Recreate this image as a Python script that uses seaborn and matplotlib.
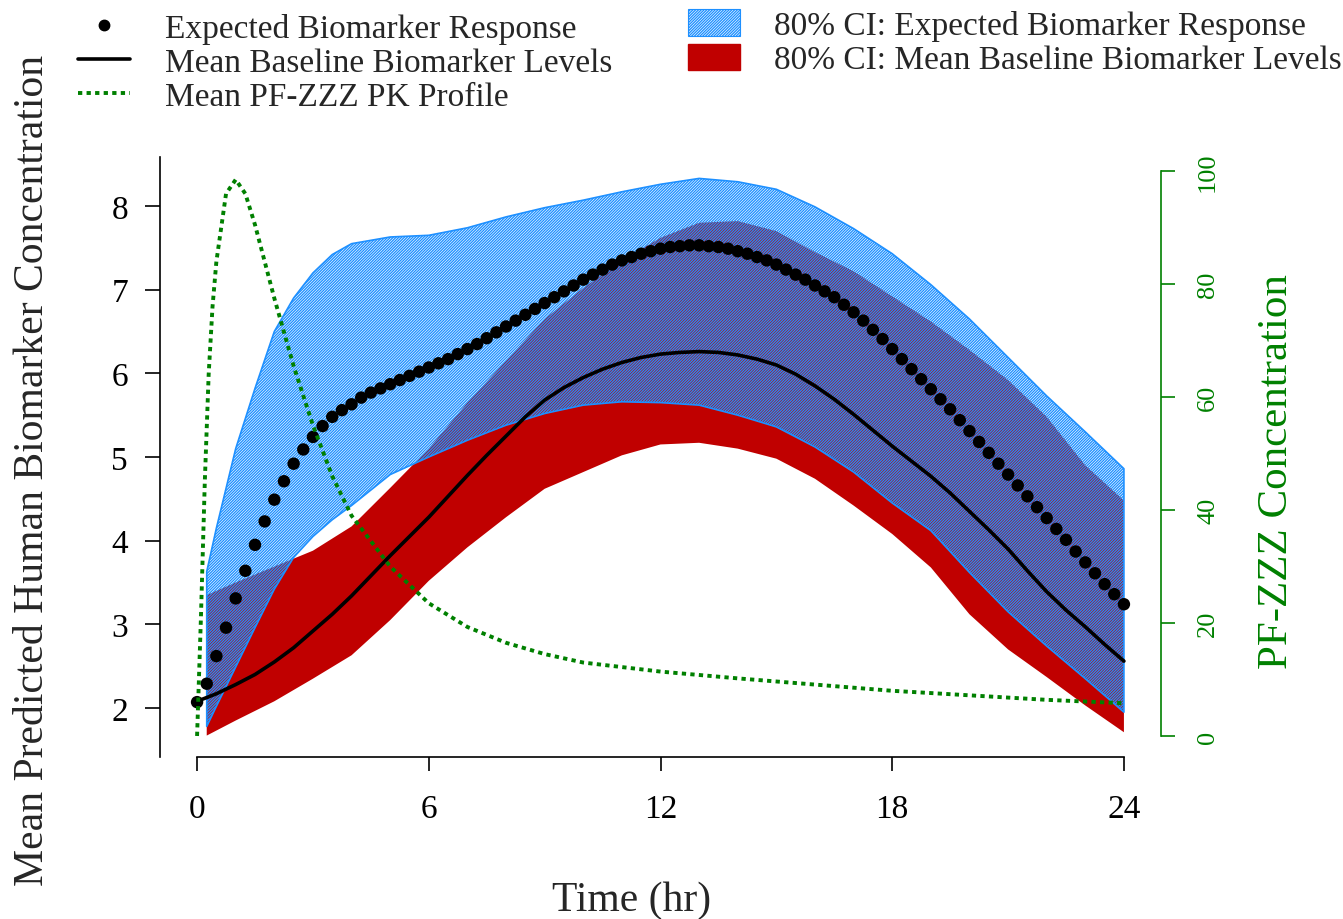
import numpy as np
import matplotlib
matplotlib.use("Agg")
import matplotlib.pyplot as plt
import seaborn as sns
from matplotlib.lines import Line2D
from matplotlib.patches import Patch

# ---------------- data ----------------
time_dots = np.arange(97) * 0.25
expected_response = [
    2.07, 2.29, 2.62, 2.96, 3.31, 3.64, 3.95, 4.23, 4.49, 4.71, 4.92, 5.09, 5.24,
    5.37, 5.48, 5.56, 5.63, 5.71, 5.77, 5.82, 5.87, 5.92, 5.97, 6.02, 6.07, 6.12,
    6.17, 6.23, 6.29, 6.35, 6.42, 6.49, 6.56, 6.63, 6.70, 6.77, 6.84, 6.91, 6.98,
    7.05, 7.12, 7.18, 7.24, 7.30, 7.35, 7.39, 7.43, 7.46, 7.49, 7.51, 7.52, 7.53,
    7.53, 7.52, 7.51, 7.49, 7.46, 7.43, 7.39, 7.35, 7.30, 7.24, 7.18, 7.12, 7.05,
    6.98, 6.91, 6.82, 6.73, 6.63, 6.52, 6.41, 6.29, 6.17, 6.05, 5.93, 5.81, 5.69,
    5.57, 5.44, 5.31, 5.18, 5.05, 4.92, 4.79, 4.66, 4.53, 4.40, 4.27, 4.14, 4.01,
    3.87, 3.74, 3.61, 3.48, 3.36, 3.24,
]

time_mean = [0, 0.5, 1, 1.5, 2, 2.5, 3, 3.5, 4, 4.5, 5, 5.5, 6, 6.5, 7, 7.5, 8,
             8.5, 9, 9.5, 10, 10.5, 11, 11.5, 12, 12.5, 13, 13.5, 14, 14.5, 15,
             15.5, 16, 16.5, 17, 17.5, 18, 18.5, 19, 19.5, 20, 20.5, 21, 21.5, 22,
             22.5, 23, 23.5, 24]
baseline_mean = [2.08, 2.17, 2.28, 2.40, 2.55, 2.72, 2.92, 3.12, 3.34, 3.58, 3.82,
                 4.05, 4.28, 4.53, 4.78, 5.02, 5.25, 5.48, 5.68, 5.83, 5.95, 6.05,
                 6.13, 6.19, 6.23, 6.25, 6.26, 6.25, 6.22, 6.17, 6.10, 5.99, 5.85,
                 5.69, 5.51, 5.32, 5.13, 4.95, 4.77, 4.57, 4.35, 4.13, 3.90, 3.64,
                 3.39, 3.17, 2.97, 2.76, 2.56]

time_resp_band = [0.25, 0.5, 1, 1.5, 2, 2.5, 3, 3.5, 4, 5, 6, 7, 8, 9, 10, 11, 12,
                  13, 14, 15, 16, 17, 18, 19, 20, 21, 22, 23, 24]
resp_ci_low = [1.78, 2.02, 2.49, 2.96, 3.42, 3.80, 4.05, 4.25, 4.42, 4.79, 5.00,
               5.20, 5.38, 5.52, 5.62, 5.66, 5.65, 5.62, 5.50, 5.36, 5.12, 4.82,
               4.45, 4.12, 3.62, 3.15, 2.74, 2.35, 1.95]
resp_ci_high = [3.63, 4.15, 5.10, 5.82, 6.50, 6.90, 7.20, 7.42, 7.55, 7.63, 7.65,
                7.74, 7.87, 7.98, 8.07, 8.17, 8.26, 8.33, 8.29, 8.20, 7.99, 7.73,
                7.43, 7.06, 6.65, 6.19, 5.73, 5.30, 4.86]

time_base_band = [0.25, 1, 2, 3, 4, 5, 6, 7, 8, 9, 10, 11, 12, 13, 14, 15, 16, 17,
                  18, 19, 20, 21, 22, 23, 24]
base_ci_low = [1.67, 1.85, 2.08, 2.35, 2.63, 3.05, 3.52, 3.92, 4.28, 4.62, 4.82,
               5.02, 5.15, 5.17, 5.10, 4.98, 4.74, 4.42, 4.08, 3.68, 3.12, 2.70,
               2.37, 2.03, 1.71]
base_ci_high = [3.35, 3.50, 3.69, 3.88, 4.17, 4.63, 5.10, 5.65, 6.15, 6.65, 7.02,
                7.35, 7.62, 7.80, 7.82, 7.70, 7.45, 7.22, 6.92, 6.62, 6.28, 5.92,
                5.48, 4.90, 4.48]

time_pk = [0, 0.1, 0.2, 0.3, 0.4, 0.5, 0.75, 1.0, 1.25, 1.5, 2.0, 2.5, 3.0, 3.5,
           4.0, 5.0, 6.0, 7.0, 8.0, 9.0, 10.0, 12.0, 14.0, 16.0, 18.0, 20.0, 22.0,
           24.0]
pk_conc = [0, 21, 45, 64, 76, 84, 96, 98.5, 96, 90.5, 77.5, 65.5, 55, 46, 39, 30,
           23.5, 19.3, 16.5, 14.5, 13, 11.4, 10.2, 9.1, 8.0, 7.2, 6.4, 5.8]

x_ticks = [0, 6, 12, 18, 24]
y_ticks = [2, 3, 4, 5, 6, 7, 8]
pk_ticks = [0, 20, 40, 60, 80, 100]

legend_left = ["Expected Biomarker Response", "Mean Baseline Biomarker Levels",
               "Mean PF-ZZZ PK Profile"]
legend_right = ["80% CI: Expected Biomarker Response",
                "80% CI: Mean Baseline Biomarker Levels"]

# ---------------- style ----------------
BLUE = "#1E90FF"
RED = "#C00000"
GREEN = "#008000"
HATCH = "////////////"
PK_DASH = (0, (1.1, 1.1))

sns.set_theme(style="ticks")
plt.rcParams["font.family"] = ["Liberation Serif", "DejaVu Serif"]
plt.rcParams["hatch.linewidth"] = 0.95

W, H = 1343, 920
fig = plt.figure(figsize=(W / 100, H / 100), dpi=100)
fig.patch.set_facecolor("white")
ax = fig.add_axes([160 / W, 162 / H, 1001 / W, 600 / H])
ax.set_facecolor("white")

# bands
ax.fill_between(time_base_band, base_ci_low, base_ci_high, facecolor=RED,
                edgecolor="none", linewidth=0, zorder=1)
ax.fill_between(time_resp_band, resp_ci_low, resp_ci_high, facecolor="none",
                edgecolor=BLUE, hatch=HATCH, linewidth=1.2, zorder=2)

sns.lineplot(x=time_mean, y=baseline_mean, color="black", linewidth=2.6,
             ax=ax, zorder=3)
sns.scatterplot(x=time_dots, y=expected_response, s=80, color="black",
                edgecolor="none", linewidth=0, ax=ax, zorder=4)

ax.set_xlim(-0.96, 24.96)
ax.set_ylim(1.414, 8.586)
ax.set_xticks(x_ticks)
ax.set_yticks(y_ticks)
ax.set_xlabel("")
ax.set_ylabel("")
for s in ["top", "right"]:
    ax.spines[s].set_visible(False)
ax.spines["bottom"].set_bounds(0, 24)
for s in ["left", "bottom"]:
    ax.spines[s].set_color("black")
    ax.spines[s].set_linewidth(1.2)
ax.tick_params(axis="y", direction="out", length=11, width=1.2, labelsize=24,
               pad=12, colors="black")
ax.tick_params(axis="x", direction="out", length=10, width=1.2, labelsize=24,
               pad=16, colors="black")

# PK on secondary axis
ax2 = ax.twinx()
sns.lineplot(x=time_pk, y=pk_conc, color=GREEN, linewidth=2.8,
             linestyle=PK_DASH, ax=ax2)
ax2.set_ylim(-3.72, 102.5)
ax2.set_yticks(pk_ticks)
ax2.set_ylabel("")
for s in ["top", "left", "bottom"]:
    ax2.spines[s].set_visible(False)
ax2.spines["right"].set_bounds(0, 100)
ax2.spines["right"].set_color(GREEN)
ax2.spines["right"].set_linewidth(1.2)
ax2.tick_params(axis="y", direction="out", length=10, width=1.2, labelsize=19,
                pad=16, colors=GREEN, labelrotation=90)
for lab in ax2.get_yticklabels():
    lab.set_va("center")

# axis titles
fig.text(33 / W, 1 - 470 / H, "Mean Predicted Human Biomarker Concentration",
         rotation=90, ha="center", va="center", fontsize=30)
fig.text(632 / W, 1 - 901 / H, "Time (hr)", ha="center", va="center", fontsize=30)
fig.text(1277 / W, 1 - 472 / H, "PF-ZZZ Concentration", rotation=90,
         ha="center", va="center", fontsize=31, color=GREEN)

# legends
h_left = [Line2D([], [], marker="o", ls="none", color="black", markersize=7.5),
          Line2D([], [], color="black", lw=2.6),
          Line2D([], [], color=GREEN, lw=2.8, ls=PK_DASH)]
fig.legend(h_left, legend_left, loc="upper left",
           bbox_to_anchor=(78 / W, 1 - 14 / H), frameon=False, fontsize=24,
           handlelength=1.57, handletextpad=1.05, labelspacing=0.1,
           borderpad=0, borderaxespad=0)
h_right = [Patch(facecolor="none", edgecolor=BLUE, hatch=HATCH, lw=0.8),
           Patch(facecolor=RED, edgecolor=RED)]
fig.legend(h_right, legend_right, loc="upper left",
           bbox_to_anchor=(688 / W, 1 - 10 / H), frameon=False, fontsize=24,
           handlelength=1.57, handleheight=0.85, handletextpad=1.0,
           labelspacing=0.08, borderpad=0, borderaxespad=0)

fig.savefig("out.png", dpi=100, facecolor="white")
